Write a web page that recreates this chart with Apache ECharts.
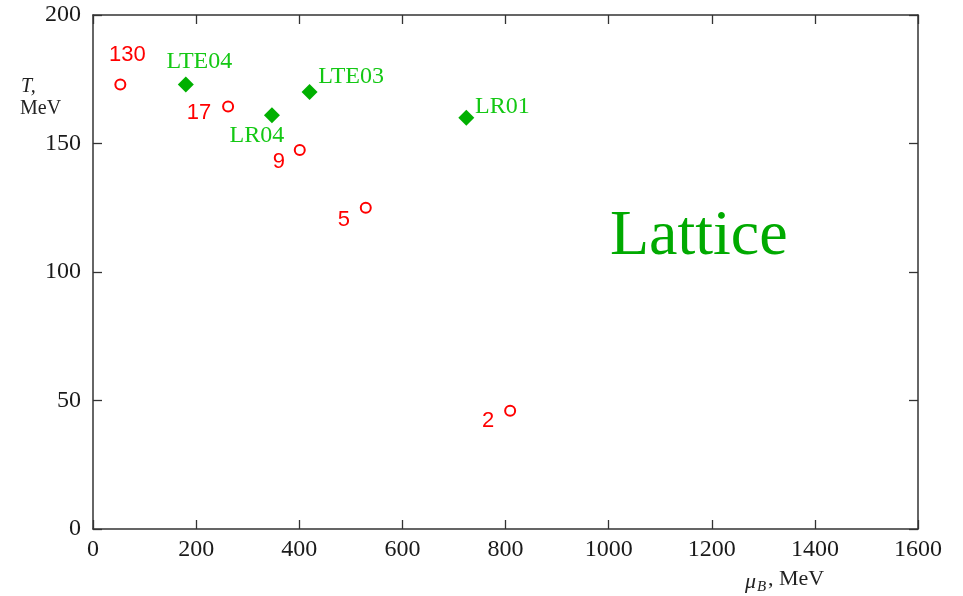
<!DOCTYPE html>
<html>
<head>
<meta charset="utf-8">
<script src="https://cdn.jsdelivr.net/npm/echarts@6/dist/echarts.min.js"></script>
<style>
  html, body { margin: 0; padding: 0; background: #fff; }
  #chart { width: 963px; height: 596px; }
</style>
</head>
<body>
<div id="chart"></div>
<script>
// Freeze-out points (mu_B, T) labelled by collision energy
const freezeoutMuB = [53, 262, 401, 529, 809];
const freezeoutT = [173, 164.4, 147.5, 125, 46];
const freezeoutLabels = ['130', '17', '9', '5', '2'];

// Lattice critical-point estimates
const latticeMuB = [180, 347, 420, 724];
const latticeT = [173, 161, 170, 160];
const latticeLabels = ['LTE04', 'LR04', 'LTE03', 'LR01'];

// Axis ticks
const xTicks = [0, 200, 400, 600, 800, 1000, 1200, 1400, 1600];
const yTicks = [0, 50, 100, 150, 200];

// Label placement relative to each marker (pixels)
const freezeoutLabelOffsets = [[7, -29], [-29, 6], [-21, 12.5], [-22, 12.5], [-22, 10.5]];
const latticeLabelOffsets = [[13.5, -23], [-15, 20], [41.5, -15], [36, -11]];

const SERIF = "'Liberation Serif', 'DejaVu Serif', serif";
const SANS = "'Liberation Sans', Arial, sans-serif";
const RED = '#ff0000';
const GREEN = '#00b000';
const GREEN_TEXT = '#14c814';
const AXIS = '#333333';

const xStep = xTicks[1] - xTicks[0];
const yStep = yTicks[1] - yTicks[0];

function makeAxis(kind, position, showLabels) {
  const ticks = kind === 'x' ? xTicks : yTicks;
  return {
    type: 'value',
    position: position,
    min: ticks[0],
    max: ticks[ticks.length - 1],
    interval: kind === 'x' ? xStep : yStep,
    axisLine: { show: true, onZero: false, lineStyle: { color: AXIS, width: 1.5 } },
    axisTick: { show: true, inside: true, length: 9, lineStyle: { color: AXIS, width: 1.3 } },
    axisLabel: {
      show: showLabels,
      formatter: v => String(v),
      fontFamily: SERIF,
      fontSize: 24,
      color: '#1a1a1a',
      margin: kind === 'x' ? 9 : 12
    },
    splitLine: { show: false }
  };
}

function buildData(xs, ys, labels, offsets) {
  return xs.map((x, i) => ({
    value: [x, ys[i]],
    name: labels[i],
    label: { offset: offsets[i] }
  }));
}

const chart = echarts.init(document.getElementById('chart'), null, { renderer: 'canvas' });

chart.setOption({
  animation: false,
  backgroundColor: '#ffffff',
  grid: { left: 93, right: 45, top: 15, bottom: 67, containLabel: false },
  xAxis: [makeAxis('x', 'bottom', true), makeAxis('x', 'top', false)],
  yAxis: [makeAxis('y', 'left', true), makeAxis('y', 'right', false)],
  series: [
    {
      type: 'scatter',
      xAxisIndex: 0,
      yAxisIndex: 0,
      symbol: 'emptyCircle',
      symbolSize: 10,
      itemStyle: { color: RED, borderColor: RED, borderWidth: 2.2, opacity: 1 },
      label: {
        show: true,
        position: 'inside',
        align: 'center',
        verticalAlign: 'middle',
        formatter: p => p.name,
        fontFamily: SANS,
        fontSize: 22,
        color: RED
      },
      data: buildData(freezeoutMuB, freezeoutT, freezeoutLabels, freezeoutLabelOffsets)
    },
    {
      type: 'scatter',
      xAxisIndex: 0,
      yAxisIndex: 0,
      symbol: 'diamond',
      symbolSize: 16,
      itemStyle: { color: GREEN, opacity: 1 },
      label: {
        show: true,
        position: 'inside',
        align: 'center',
        verticalAlign: 'middle',
        formatter: p => p.name,
        fontFamily: SERIF,
        fontSize: 24,
        color: GREEN_TEXT
      },
      data: buildData(latticeMuB, latticeT, latticeLabels, latticeLabelOffsets)
    }
  ],
  graphic: [
    {
      type: 'text',
      left: 610,
      top: 205,
      style: { text: 'Lattice', fontFamily: SERIF, fontSize: 64, fill: '#00aa00' }
    },
    {
      type: 'text',
      left: 21,
      top: 77,
      style: { text: 'T,', fontFamily: SERIF, fontStyle: 'italic', fontSize: 20, fill: '#222' }
    },
    {
      type: 'text',
      left: 20,
      top: 99,
      style: { text: 'MeV', fontFamily: SERIF, fontSize: 20, fill: '#222' }
    },
    {
      type: 'text',
      left: 745,
      top: 571,
      style: { text: 'μ', fontFamily: SERIF, fontStyle: 'italic', fontSize: 22, fill: '#222' }
    },
    {
      type: 'text',
      left: 757,
      top: 580,
      style: { text: 'B', fontFamily: SERIF, fontStyle: 'italic', fontSize: 15, fill: '#222' }
    },
    {
      type: 'text',
      left: 768,
      top: 568,
      style: { text: ', MeV', fontFamily: SERIF, fontSize: 22, fill: '#222' }
    }
  ]
});
</script>
</body>
</html>
